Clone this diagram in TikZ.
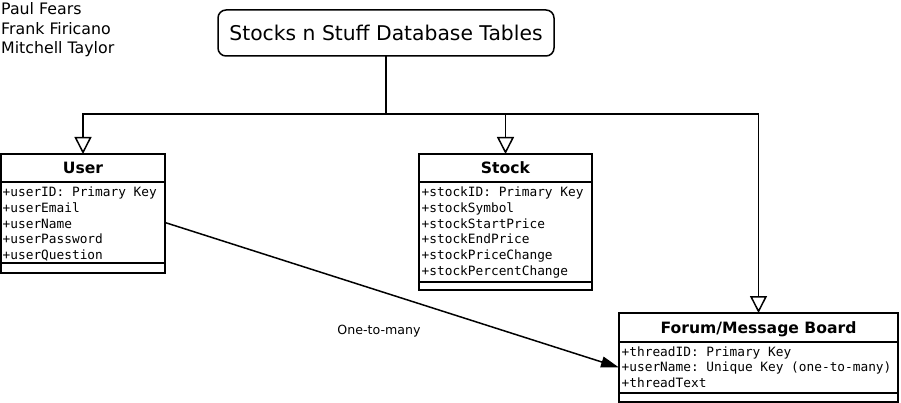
\documentclass[tikz,border=0pt]{standalone}
\usepackage{fontspec}
\setmainfont{DejaVu Sans}
\setmonofont{DejaVu Sans Mono}
\usetikzlibrary{arrows.meta}
\begin{document}
\begin{tikzpicture}[x=1pt,y=-1pt,
  tblbox/.style={draw, line width=1.5pt, anchor=north west, inner sep=0pt, outer sep=0pt},
  tblhead/.style={tblbox, font=\fontsize{15.6}{18}\selectfont\bfseries, text height=11pt, text depth=0pt},
  attr/.style={anchor=base west, inner sep=0pt, font=\fontsize{12.8}{15}\ttfamily},
  namelbl/.style={anchor=base west, inner sep=0pt, font=\fontsize{15.8}{18}\selectfont},
  gen/.style={line width=1.5pt, -{Triangle[open, length=17pt, width=17pt, line width=1.5pt]}},
  assoc/.style={line width=1.5pt, -{Triangle[length=18pt, width=11pt]}}
]
\useasboundingbox (0,0) rectangle (901,403);

% authors
\node[namelbl] (n1) at (1,15) {Paul Fears};
\node[namelbl] (n2) at (1,34.5) {Frank Firicano};
\node[namelbl] (n3) at (1,54) {Mitchell Taylor};

% title
\node[draw, line width=1.5pt, rounded corners=8pt, minimum width=336pt, minimum height=46pt,
      inner sep=0pt, outer sep=0pt, text height=15.2pt, text depth=0pt,
      font=\fontsize{20.3}{24}\selectfont] (title) at (386,33) {Stocks n Stuff Database Tables};

% User table
\node[tblhead, minimum width=164pt, minimum height=28pt] (user) at (1,154) {User};
\node[tblbox, minimum width=164pt, minimum height=81pt] (userbody) at (1,182) {};
\node[tblbox, minimum width=164pt, minimum height=10pt] (userfoot) at (1,263) {};
\node[attr] (u1) at (2.5,196.5) {+userID: Primary Key};
\node[attr] (u2) at (2.5,212.3) {+userEmail};
\node[attr] (u3) at (2.5,228.1) {+userName};
\node[attr] (u4) at (2.5,243.9) {+userPassword};
\node[attr] (u5) at (2.5,259.7) {+userQuestion};

% Stock table
\node[tblhead, minimum width=173pt, minimum height=28pt] (stock) at (419,154) {Stock};
\node[tblbox, minimum width=173pt, minimum height=100pt] (stockbody) at (419,182) {};
\node[tblbox, minimum width=173pt, minimum height=8pt] (stockfoot) at (419,282) {};
\node[attr] (s1) at (421.5,196.5) {+stockID: Primary Key};
\node[attr] (s2) at (421.5,212.3) {+stockSymbol};
\node[attr] (s3) at (421.5,228.1) {+stockStartPrice};
\node[attr] (s4) at (421.5,243.9) {+stockEndPrice};
\node[attr] (s5) at (421.5,259.7) {+stockPriceChange};
\node[attr] (s6) at (421.5,275.5) {+stockPercentChange};

% Forum table
\node[tblhead, minimum width=279pt, minimum height=29pt] (forum) at (619,313) {Forum/Message Board};
\node[tblbox, minimum width=279pt, minimum height=51pt] (forumbody) at (619,342) {};
\node[tblbox, minimum width=279pt, minimum height=9pt] (forumfoot) at (619,393) {};
\node[attr] (f1) at (621.5,356) {+threadID: Primary Key};
\node[attr] (f2) at (621.5,371.7) {+userName: Unique Key (one-to-many)};
\node[attr] (f3) at (621.5,387.4) {+threadText};

% connectors
\coordinate (j) at (386,114);
\draw[line width=1.5pt] (title.south) -- (j);
\draw[gen] (j) -| (user.north);
\draw[gen] (j) -| (stock.north);
\draw[gen] (j) -| (forum.north);

\draw[assoc] (userbody.east) -- (forumbody.west);
\node[anchor=base, inner sep=0pt, font=\fontsize{12.6}{15}\selectfont] (lbl) at (379,334) {One-to-many};
\end{tikzpicture}
\end{document}
